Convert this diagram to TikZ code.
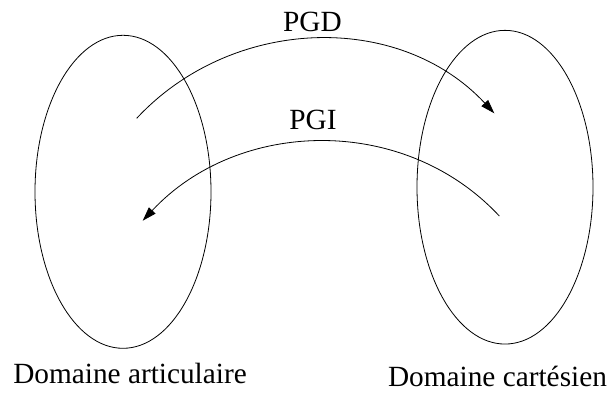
\documentclass[tikz,border=0pt]{standalone}
\usepackage{fontspec}
\setmainfont{Liberation Serif}
\usetikzlibrary{shapes.geometric,arrows.meta}
\tikzset{
  setshape/.style={draw, ellipse, line width=0.8pt, inner sep=0pt},
  maparrow/.style={line width=0.8pt, -{Triangle[length=14pt,width=9pt]}},
  lbl/.style={anchor=base, inner sep=0pt, font=\fontsize{29.3}{34}\selectfont}
}
\begin{document}
\begin{tikzpicture}[x=1pt,y=1pt]
\useasboundingbox (0,0) rectangle (608,392);
\node[setshape, minimum width=176pt, minimum height=313pt] (L) at (123,200.2) {};
\node[setshape, minimum width=176pt, minimum height=313.7pt] (R) at (505,204.8) {};
\coordinate (A) at (136.7,273.7);
\coordinate (B) at (494.3,278.7);
\coordinate (C) at (499.3,176);
\coordinate (D) at (142.7,171.3);
\draw[maparrow] (A) to[out=47,in=133] (B);
\draw[maparrow] (C) to[out=133,in=47] (D);
\node[lbl] (pgd) at (312.5,360.3) {PGD};
\node[lbl] (pgi) at (313,263) {PGI};
\node[lbl] (la) at (130,9) {Domaine articulaire};
\node[lbl] (lc) at (497.5,6) {Domaine cartésien};
\end{tikzpicture}
\end{document}
